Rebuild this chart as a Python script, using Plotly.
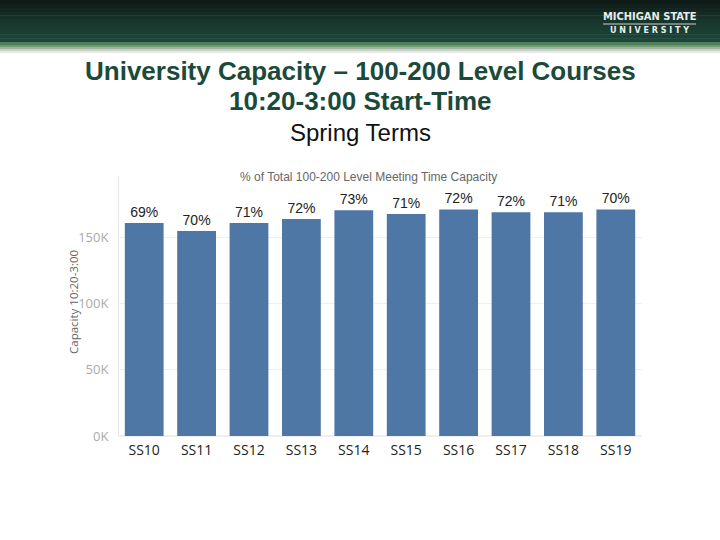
import plotly.graph_objects as go

terms = ["SS10", "SS11", "SS12", "SS13", "SS14", "SS15", "SS16", "SS17", "SS18", "SS19"]
capacity = [160600, 154500, 160600, 163600, 170100, 167300, 170800, 168600, 168600, 170800]
pct_labels = ["69%", "70%", "71%", "72%", "73%", "71%", "72%", "72%", "71%", "70%"]
ytick_vals = [0, 50000, 100000, 150000]
ytick_text = ["0K", "50K", "100K", "150K"]

W, H = 720, 540

def py(pix):
    return 1 - pix / H

fig = go.Figure()
fig.add_trace(go.Bar(
    x=terms, y=capacity, text=pct_labels, textposition="outside",
    marker=dict(color="#4e77a5", line=dict(width=0)),
    textfont=dict(family="Liberation Sans, Arial", size=14, color="#222222"),
    cliponaxis=False, hoverinfo="skip",
))

shapes = []
# header banner gradient (dark to green)
top_cols = ["#0f1b17", "#11201c", "#13261f", "#152c24", "#163128", "#17352b", "#18392f", "#193c31", "#1a4034", "#1b4236", "#1b4538"]
n = len(top_cols)
for i, c in enumerate(top_cols):
    y0 = i * 42 / n
    y1 = (i + 1) * 42 / n + 0.5
    shapes.append(dict(type="rect", xref="paper", yref="paper", x0=0, x1=1,
                       y0=py(y1), y1=py(y0), fillcolor=c, line=dict(width=0), layer="below"))
stripes = [(42, 45, "#4f7f5a"), (45, 47, "#6f9a72"), (47, 49, "#9fb59f"), (49, 51, "#c9cfc9"), (51, 53, "#e8eae8")]
for a, b, c in stripes:
    shapes.append(dict(type="rect", xref="paper", yref="paper", x0=0, x1=1,
                       y0=py(b), y1=py(a), fillcolor=c, line=dict(width=0), layer="below"))
# logo underline
shapes.append(dict(type="line", xref="paper", yref="paper", x0=603 / W, x1=696 / W,
                   y0=py(24), y1=py(24), line=dict(color="#c8d2cc", width=1)))
# left axis line
shapes.append(dict(type="line", xref="paper", yref="paper", x0=118.5 / W, x1=118.5 / W,
                   y0=py(436), y1=py(176), line=dict(color="#e6e6e6", width=1), layer="below"))

annotations = [
    dict(text="<b>MICHIGAN STATE</b>", x=649.5 / W, y=py(17), xref="paper", yref="paper", showarrow=False,
         font=dict(family="DejaVu Sans Condensed, Liberation Sans Narrow", size=11, color="#e8eeea"), xanchor="center", yanchor="middle"),
    dict(text="<b>U N I V E R S I T Y</b>", x=649.5 / W, y=py(30), xref="paper", yref="paper", showarrow=False,
         font=dict(family="DejaVu Sans, Liberation Sans", size=8, color="#e8eeea"), xanchor="center", yanchor="middle"),
    dict(text="<b>University Capacity – 100-200 Level Courses</b>", x=0.5, y=py(71), xref="paper", yref="paper",
         showarrow=False, font=dict(family="Liberation Sans, Arial", size=26, color="#1b4a3b"), xanchor="center", yanchor="middle"),
    dict(text="<b>10:20-3:00 Start-Time</b>", x=0.5, y=py(101), xref="paper", yref="paper",
         showarrow=False, font=dict(family="Liberation Sans, Arial", size=26, color="#1b4a3b"), xanchor="center", yanchor="middle"),
    dict(text="Spring Terms", x=0.5, y=py(132), xref="paper", yref="paper",
         showarrow=False, font=dict(family="Liberation Sans, Arial", size=24, color="#111111"), xanchor="center", yanchor="middle"),
    dict(text="% of Total 100-200 Level Meeting Time Capacity", x=368 / W, y=py(177), xref="paper", yref="paper",
         showarrow=False, font=dict(family="Liberation Sans, Arial", size=12, color="#666666"), xanchor="center", yanchor="middle"),
    dict(text="Capacity 10:20-3:00", x=73 / W, y=py(302), xref="paper", yref="paper", textangle=-90,
         showarrow=False, font=dict(family="Open Sans, Liberation Sans", size=11.5, color="#666666"), xanchor="center", yanchor="middle"),
]

fig.update_layout(
    width=W, height=H, margin=dict(l=0, r=0, t=0, b=0, pad=0, autoexpand=False),
    paper_bgcolor="white", plot_bgcolor="white",
    showlegend=False, bargap=0.26,
    shapes=shapes, annotations=annotations,
    xaxis=dict(domain=[118 / W, 642 / W], anchor="y", showgrid=False, showline=False, automargin=False,
               ticks="outside", ticklen=1, tickcolor="rgba(0,0,0,0)",
               tickfont=dict(family="Open Sans, Liberation Sans", size=14, color="#222222")),
    yaxis=dict(domain=[py(436), py(176)], anchor="x", range=[0, 196000], automargin=False,
               tickvals=ytick_vals, ticktext=ytick_text, showgrid=True, gridcolor="#efefef",
               zeroline=True, zerolinecolor="#efefef", showline=False,
               ticks="outside", ticklen=6, tickcolor="rgba(0,0,0,0)",
               tickfont=dict(family="Open Sans, Liberation Sans", size=13, color="#aaaaaa")),
)

fig.write_html("out.html", config={"displayModeBar": False},
               post_script="document.body.style.margin='0px';document.body.style.overflow='hidden';")
